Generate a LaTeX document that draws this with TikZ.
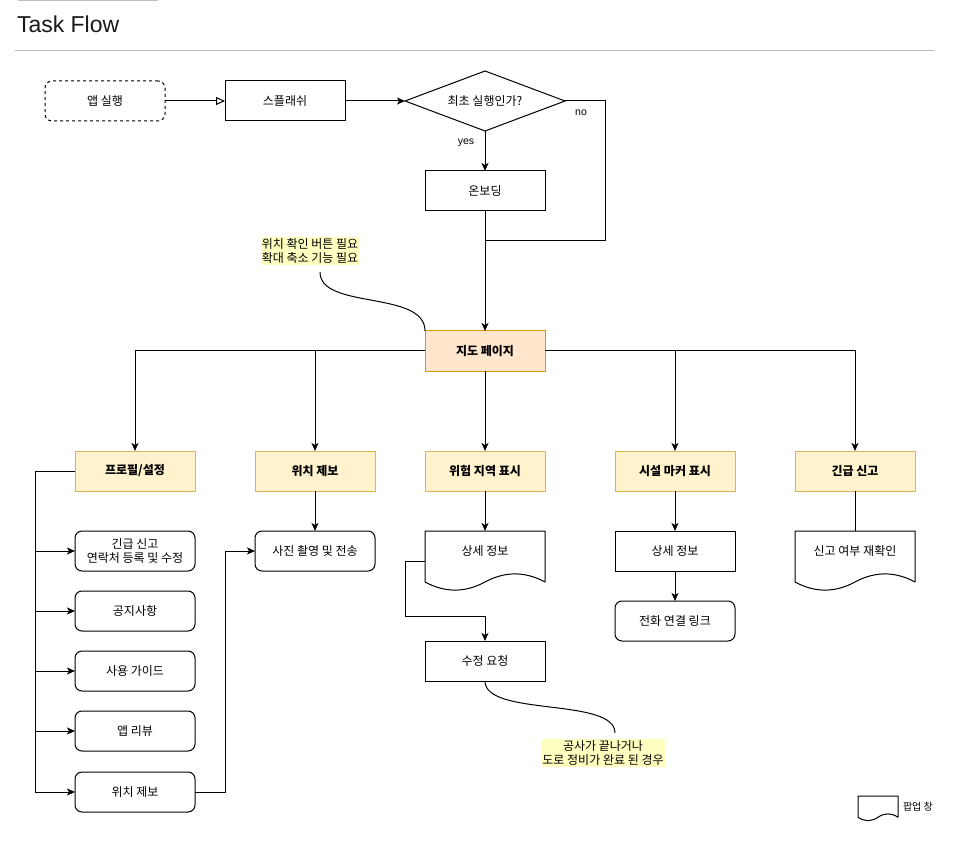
\documentclass[tikz,border=0pt]{standalone}
\usepackage{fontspec}
\setmainfont{Liberation Sans}
\newfontfamily\kr{Noto Sans CJK KR}
\usetikzlibrary{arrows.meta,calc,shapes.geometric}
\definecolor{ylwfill}{HTML}{FFF2CC}
\definecolor{ylwdraw}{HTML}{D6B656}
\definecolor{orfill}{HTML}{FFE6CC}
\definecolor{ordraw}{HTML}{D79B00}
\definecolor{notefill}{HTML}{FFFFC0}
\definecolor{sepgray}{HTML}{BDBDBD}
% document (popup) outline: x y w h
\newcommand{\docoutline}[4]{%
  \pgfmathsetmacro{\dX}{#1}\pgfmathsetmacro{\dY}{#2}%
  \pgfmathsetmacro{\dW}{#3}\pgfmathsetmacro{\dH}{#4}%
  \pgfmathsetmacro{\dD}{0.3*\dH}%
  \draw[line width=1pt, line join=round]
    (\dX,\dY) -- ({\dX+\dW},\dY) -- ({\dX+\dW},{\dY+\dH-\dD/2})
    .. controls ({\dX+5*\dW/6},{\dY+\dH-1.1*\dD}) and ({\dX+2*\dW/3},{\dY+\dH-1.1*\dD}) .. ({\dX+\dW/2},{\dY+\dH-\dD/2})
    .. controls ({\dX+\dW/3},{\dY+\dH+0.1*\dD}) and ({\dX+\dW/6},{\dY+\dH+0.1*\dD}) .. (\dX,{\dY+\dH-\dD/2})
    -- cycle;}
\begin{document}
\begin{tikzpicture}[x=1pt,y=-1pt,
  every node/.style={inner sep=0pt, outer sep=0pt},
  txt/.style={font=\kr\fontsize{12}{14}\selectfont, align=center},
  box/.style={txt, draw, line width=1pt, minimum width=120pt, minimum height=40pt},
  rbox/.style={box, rounded corners=7pt},
  ybox/.style={box, fill=ylwfill, draw=ylwdraw, font=\kr\bfseries\fontsize{12}{14}\selectfont},
  obox/.style={ybox, fill=orfill, draw=ordraw},
  docnode/.style={txt, minimum width=120pt, minimum height=60pt},
  note/.style={txt, fill=notefill, inner xsep=1pt, inner ysep=1.5pt},
  conn/.style={line width=1pt},
  arr/.style={conn, -{Stealth[length=8pt,width=7pt,inset=2pt]}},
  oarr/.style={conn, -{Triangle[open,length=9pt,width=8pt]}},
  lbl/.style={font=\fontsize{10.5}{12}\selectfont}
]
\useasboundingbox (0,0) rectangle (956,842);
% header
\draw[sepgray, line width=1pt] (18,0.5) -- (158,0.5);
\node[anchor=base west, font=\fontsize{23}{26}\selectfont, text=black!90] (title) at (17,33) {Task Flow};
\draw[sepgray, line width=1pt] (15,51) -- (935,51);

% top flow
\node[box, rounded corners=7pt, dash pattern=on 3pt off 3pt] (start) at (105,101) {앱 실행};
\node[box] (splash) at (285,101) {스플래쉬};
\node[txt, draw, line width=1pt, diamond, aspect=2.67, minimum width=160pt, minimum height=60pt] (dec) at (485,101) {최초 실행인가?};
\node[box] (onb) at (485,191) {온보딩};
\coordinate (join) at (485,241);
\coordinate (noturn) at (605,241);
\node[lbl] (yes) at (466,143) {yes};
\node[lbl] (no) at (581,113) {no};

\node[obox] (map) at (485,351) {지도 페이지};
\node[note] (note1) at (310,251) {위치 확인 버튼 필요\\확대 축소 기능 필요};
\coordinate (n1c) at (320,272);

% second row
\node[ybox] (prof) at (135,471) {프로필/설정};
\node[ybox] (loc) at (315,471) {위치 제보};
\node[ybox] (danger) at (485,471) {위험 지역 표시};
\node[ybox] (fac) at (675,471) {시설 마커 표시};
\node[ybox] (emerg) at (855,471) {긴급 신고};

% profile children
\node[rbox] (s1) at (135,551) {긴급 신고\\연락처 등록 및 수정};
\node[rbox] (s2) at (135,611) {공지사항};
\node[rbox] (s3) at (135,671) {사용 가이드};
\node[rbox] (s4) at (135,731) {앱 리뷰};
\node[rbox] (s5) at (135,792) {위치 제보};

\node[rbox] (photo) at (315,551) {사진 촬영 및 전송};

\node[docnode, label={[txt, yshift=10pt]center:상세 정보}] (det1) at (485,561) {};
\docoutline{425}{531}{120}{60}
\node[box] (edit) at (485,661) {수정 요청};
\node[note] (note2) at (603,753) {공사가 끝나거나\\도로 정비가 완료 된 경우};
\coordinate (n2c) at (615,733);

\node[box] (det2) at (675,551) {상세 정보};
\node[rbox] (phone) at (675,621) {전화 연결 링크};

\node[docnode, label={[txt, yshift=10pt]center:신고 여부 재확인}] (confirm) at (855,561) {};
\docoutline{795}{531}{120}{60}

% legend
\node[minimum width=40pt, minimum height=25pt] (leg) at (878,808.5) {};
\docoutline{858}{796}{40}{25}
\node[anchor=west, font=\kr\fontsize{10}{12}\selectfont] (legtxt) at (903,807) {팝업 창};

% connectors
\draw[oarr] (start.east) -- (splash.west);
\draw[arr] (splash.east) -- (dec.west);
\draw[arr] (dec.south) -- (onb.north);
\draw[conn] (dec.east) -| (noturn) -- (join);
\draw[arr] (onb.south) -- (map.north);
\draw[conn] (n1c) .. controls (320,310) and (425,290) .. (map.north west);

\draw[arr] (map.west) -| (prof.north);
\draw[arr] (map.west) -| (loc.north);
\draw[arr] (map.south) -- (danger.north);
\draw[arr] (map.east) -| (fac.north);
\draw[arr] (map.east) -| (emerg.north);

\foreach \t in {s1,s2,s3,s4,s5}{
  \draw[arr] (prof.west) -- ++(-40,0) |- (\t.west);
}
\draw[arr] (loc.south) -- (photo.north);
\draw[arr] (s5.east) -- ++(30,0) |- (photo.west);

\draw[arr] (danger.south) -- (det1.north);
\draw[arr] (det1.west) -- ++(-20,0) |- ($(edit.north)+(0,-25)$) -- (edit.north);
\draw[conn] (edit.south) .. controls (485,717) and (615,697) .. (n2c);

\draw[arr] (fac.south) -- (det2.north);
\draw[arr] (det2.south) -- (phone.north);
\draw[conn] (emerg.south) -- (confirm.north);
\end{tikzpicture}
\end{document}
